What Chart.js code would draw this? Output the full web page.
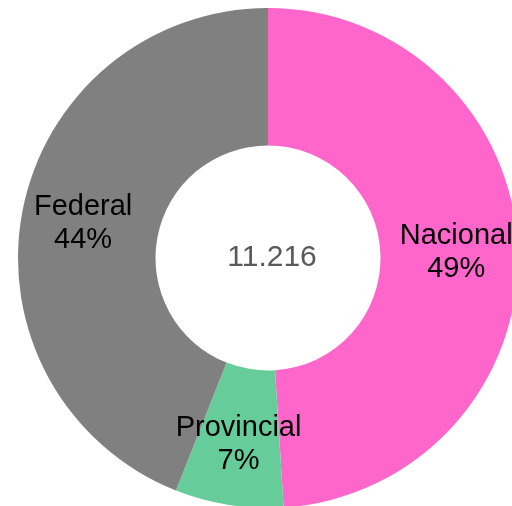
<!DOCTYPE html>
<html>
<head>
<meta charset="utf-8">
<style>
  html, body { margin: 0; padding: 0; background: #fff; overflow: hidden; width: 512px; height: 506px; }
  #wrap { position: absolute; left: 18px; top: 8px; width: 500px; height: 500px; }
</style>
<script src="https://cdn.jsdelivr.net/npm/chart.js@4/dist/chart.umd.min.js"></script>
</head>
<body>
<div id="wrap"><canvas id="donut" width="500" height="500"></canvas></div>
<script>
var categories = ["Nacional", "Provincial", "Federal"];
var values = [5496, 785, 4935];
var colors = ['#FF66CC', '#66CC99', '#808080'];
var totalLabel = "11.216";

// labels inside each slice + total in the hole
var sliceLabels = {
    id: 'sliceLabels',
    afterDatasetsDraw: function (chart) {
        var ctx = chart.ctx;
        var meta = chart.getDatasetMeta(0);
        var sum = values.reduce(function (a, b) { return a + b; }, 0);
        ctx.save();
        ctx.textAlign = 'center';
        ctx.textBaseline = 'middle';
        ctx.font = '29px "Liberation Sans", Arial, sans-serif';
        ctx.fillStyle = '#000';
        meta.data.forEach(function (arc, i) {
            var p = arc.getProps(['x', 'y', 'startAngle', 'endAngle', 'innerRadius', 'outerRadius']);
            var mid = (p.startAngle + p.endAngle) / 2;
            var r = (p.innerRadius + p.outerRadius) / 2 + 7;
            var x = p.x + Math.cos(mid) * r;
            var y = p.y + Math.sin(mid) * r;
            var pct = Math.round(values[i] / sum * 100) + '%';
            ctx.fillText(categories[i], x, y - 16);
            ctx.fillText(pct, x, y + 17);
        });
        var c = meta.data[0];
        ctx.font = '30px "Liberation Sans", Arial, sans-serif';
        ctx.fillStyle = '#595959';
        ctx.fillText(totalLabel, c.x + 4, c.y);
        ctx.restore();
    }
};

new Chart(document.getElementById("donut").getContext("2d"), {
    type: 'doughnut',
    data: {
        labels: categories,
        datasets: [{
            data: values,
            backgroundColor: colors,
            borderWidth: 0
        }]
    },
    options: {
        responsive: false,
        animation: false,
        cutout: '45%',
        layout: { padding: 0 },
        plugins: {
            legend: { display: false },
            tooltip: { enabled: false }
        }
    },
    plugins: [sliceLabels]
});
</script>
</body>
</html>
